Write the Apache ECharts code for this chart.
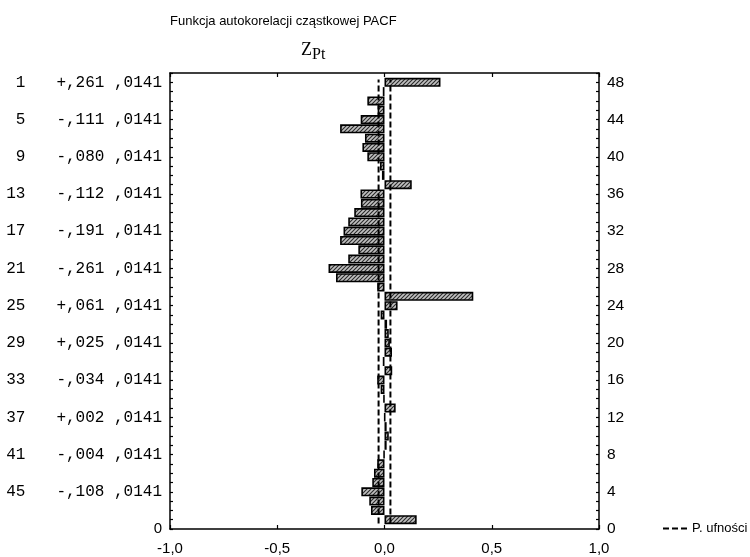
<!DOCTYPE html>
<html><head><meta charset="utf-8">
<script src="https://cdn.jsdelivr.net/npm/echarts@6/dist/echarts.min.js"></script>
<style>html,body{margin:0;padding:0;background:#fff}#c{width:750px;height:557px}</style>
</head><body><div id="c"></div>
<script>
// PACF values for lags 1..48
const lags = [1,2,3,4,5,6,7,8,9,10,11,12,13,14,15,16,17,18,19,20,21,22,23,24,25,26,27,28,29,30,31,32,33,34,35,36,37,38,39,40,41,42,43,44,45,46,47,48];
const pacf = [0.261,-0.008,-0.080,-0.032,-0.111,-0.207,-0.091,-0.103,-0.080,-0.021,-0.012,0.127,
              -0.112,-0.110,-0.141,-0.169,-0.191,-0.207,-0.122,-0.169,-0.261,-0.226,-0.034,0.414,
              0.061,-0.018,0.012,0.020,0.025,0.035,-0.008,0.036,-0.034,-0.018,-0.005,0.052,
              0.002,0.010,0.020,0.010,-0.004,-0.034,-0.049,-0.057,-0.108,-0.071,-0.063,0.150];
const confLimit = 0.0276;
const confSpan = [0.6, 48.3];
const leftLabelLags = [1,5,9,13,17,21,25,29,33,37,41,45];
const leftLabelPacf = ['+,261','-,111','-,080','-,112','-,191','-,261','+,061','+,025','-,034','+,002','-,004','-,108'];
const leftLabelSE = [',0141',',0141',',0141',',0141',',0141',',0141',',0141',',0141',',0141',',0141',',0141',',0141'];
const rightTickLabels = ['0','4','8','12','16','20','24','28','32','36','40','44','48'];
const xTickValues = [-1,-0.5,0,0.5,1];
const xTickLabels = ['-1,0','-0,5','0,0','0,5','1,0'];
const titleText = 'Funkcja autokorelacji cząstkowej PACF';
const legendName = 'P. ufności';

const N = 49;
const positions = [];
for (let p = 0; p <= N; p++) positions.push(String(p));
const barData = positions.map((s, p) => {
  const lag = N - p;
  const i = lags.indexOf(lag);
  return i >= 0 ? pacf[i] : null;
});

// hatch pattern
const pc = document.createElement('canvas'); pc.width = 4; pc.height = 4;
const g = pc.getContext('2d');
g.fillStyle = '#c0c0c0'; g.fillRect(0,0,4,4);
g.strokeStyle = '#2a2a2a'; g.lineWidth = 1.1;
g.beginPath();
g.moveTo(0,4); g.lineTo(4,0);
g.moveTo(-1,1); g.lineTo(1,-1);
g.moveTo(3,5); g.lineTo(5,3);
g.stroke();

const sans = "'Liberation Sans', Arial, sans-serif";
const mono = "'Liberation Mono', 'Courier New', monospace";
const serif = "'Liberation Serif', 'Times New Roman', serif";

const chart = echarts.init(document.getElementById('c'), null, {renderer: 'canvas'});
chart.setOption({
  animation: false,
  backgroundColor: '#fff',
  title: [
    {text: titleText, left: 165, top: 10, textStyle: {fontFamily: sans, fontSize: 13, fontWeight: 'normal', color: '#000'}},
    {text: '{z|Z}{s|Pt}', left: 296, top: 36,
     textStyle: {fontWeight: 'normal', rich: {
       z: {fontFamily: serif, fontSize: 18, fontWeight: 'normal', color: '#000', verticalAlign: 'top', lineHeight: 20},
       s: {fontFamily: serif, fontSize: 16, fontWeight: 'normal', color: '#000', padding: [8,0,0,0], lineHeight: 20}
     }}}
  ],
  legend: {
    data: [{name: legendName, icon: 'path://M0,0h6v2h-6z M9,0h6v2h-6z M18,0h6v2h-6z'}],
    left: 663, top: 522, padding: 0, itemWidth: 24, itemHeight: 2, itemGap: 4,
    textStyle: {fontFamily: sans, fontSize: 13, color: '#000'},
    itemStyle: {color: '#000'}
  },
  grid: {left: 170, right: 151, top: 73, bottom: 28, show: false},
  xAxis: [
    {type: 'value', min: -1, max: 1, interval: 0.5, position: 'bottom',
     axisLine: {show: true, onZero: false, lineStyle: {color: '#000', width: 1.5}},
     axisTick: {show: true, inside: true, length: 4, lineStyle: {color: '#000', width: 1.2}},
     splitLine: {show: false},
     axisLabel: {margin: 12, fontFamily: sans, fontSize: 15, color: '#000',
       formatter: v => { const i = xTickValues.findIndex(t => Math.abs(t - v) < 1e-9); return i >= 0 ? xTickLabels[i] : ''; }}},
    {type: 'value', min: -1, max: 1, interval: 0.5, position: 'top',
     axisLine: {show: true, onZero: false, lineStyle: {color: '#000', width: 1.5}},
     axisTick: {show: true, inside: true, length: 4, lineStyle: {color: '#000', width: 1.2}},
     splitLine: {show: false}, axisLabel: {show: false}}
  ],
  yAxis: [
    {type: 'category', data: positions, boundaryGap: false, position: 'left',
     axisLine: {show: true, onZero: false, lineStyle: {color: '#000', width: 1.5}},
     axisTick: {show: true, inside: true, length: 3, interval: 0, lineStyle: {color: '#000', width: 1.2}},
     splitLine: {show: false},
     axisLabel: {margin: 8, interval: 0,
       formatter: (v) => {
         const p = Number(v);
         if (p === 0) return '{z|0}';
         const i = leftLabelLags.indexOf(N - p);
         if (i < 0) return '';
         return '{n|' + leftLabelLags[i] + '}{v|' + leftLabelPacf[i] + ' ' + leftLabelSE[i] + '}';
       },
       rich: {
         n: {fontFamily: mono, fontSize: 16, color: '#000', width: 24, align: 'right'},
         v: {fontFamily: mono, fontSize: 16, color: '#000', padding: [0,0,0,31]},
         z: {fontFamily: sans, fontSize: 15, color: '#000'}
       }}},
    {type: 'category', data: positions, boundaryGap: false, position: 'right',
     axisLine: {show: true, onZero: false, lineStyle: {color: '#000', width: 1.5}},
     axisTick: {show: true, inside: true, length: 3, interval: 0, lineStyle: {color: '#000', width: 1.2}},
     splitLine: {show: false},
     axisLabel: {margin: 8, interval: 0, fontFamily: sans, fontSize: 15.5, color: '#000',
       formatter: v => rightTickLabels.indexOf(v) >= 0 ? v : ''}},
    {type: 'value', min: 0, max: N, show: false}
  ],
  series: [
    {type: 'bar', xAxisIndex: 0, yAxisIndex: 0, data: barData, barWidth: 9, barMaxWidth: 20,
     itemStyle: {color: {image: pc, repeat: 'repeat'}, borderColor: '#000', borderWidth: 1.6},
     silent: true},
    {name: legendName, type: 'line', xAxisIndex: 0, yAxisIndex: 2, symbol: 'none',
     data: [[-confLimit, confSpan[0]], [-confLimit, confSpan[1]]],
     lineStyle: {color: '#000', width: 2, type: [6,3]}, silent: true},
    {name: legendName, type: 'line', xAxisIndex: 0, yAxisIndex: 2, symbol: 'none',
     data: [[confLimit, confSpan[0]], [confLimit, confSpan[1]]],
     lineStyle: {color: '#000', width: 2, type: [6,3]}, silent: true}
  ]
});
</script></body></html>
